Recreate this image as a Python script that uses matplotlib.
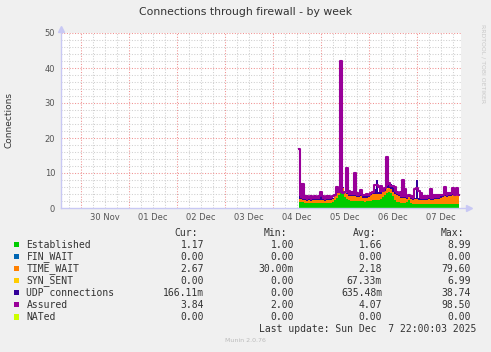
import datetime as dt
import matplotlib
matplotlib.use("Agg")
import matplotlib.pyplot as plt
import matplotlib.dates as mdates
from matplotlib.patches import Rectangle
import numpy as np
import pandas as pd

# ---------------- data (hourly, from Dec 4 13:00) ----------------
established = [1.8, 1.7, 1.6,
               1.5, 1.4, 1.5, 1.4, 1.4, 1.5, 1.4, 1.5, 1.5, 1.4, 1.4, 1.5, 1.4, 1.5, 1.6,
               2.2, 3.0, 3.6, 5.5, 4.2, 3.2, 2.6, 2.3,
               2.1, 2.0, 2.1, 2.0, 1.9, 2.0,
               1.9, 1.8, 1.9, 1.9,
               2.1, 2.3, 2.2, 2.3, 2.2,
               2.6, 3.2, 3.8, 4.4, 4.6, 4.2, 3.3,
               2.4, 1.8, 1.6,
               1.5, 1.5, 1.4,
               1.6, 2.3, 1.5,
               1.1, 1.2, 1.1, 1.1, 1.2, 1.1, 1.1, 1.1, 1.2, 1.1, 1.1, 1.2, 1.1, 1.1,
               1.2, 1.1, 1.2, 1.1, 1.2, 1.1, 1.2, 1.1, 1.2, 1.17]
fin_wait = [0.0, 0.0, 0.0, 0.0, 0.0, 0.0, 0.0, 0.0, 0.0, 0.0, 0.0, 0.0, 0.0, 0.0, 0.0, 0.0, 0.0, 0.0,
            0.0, 0.0, 0.0, 0.0, 0.0, 0.0, 0.0, 0.0, 0.0, 0.0, 0.0, 0.0, 0.0, 0.0, 0.0, 0.0, 0.0, 0.0,
            0.0, 0.0, 0.0, 0.0, 0.0, 0.0, 0.0, 0.0, 0.0, 0.0, 0.0, 0.0, 0.0, 0.0, 0.0, 0.0, 0.0, 0.0,
            0.0, 0.0, 0.0, 0.0, 0.0, 0.0, 0.0, 0.0, 0.0, 0.0, 0.0, 0.0, 0.0, 0.0, 0.0, 0.0, 0.0, 0.0,
            0.0, 0.0, 0.0, 0.0, 0.0, 0.0, 0.0, 0.0, 0.0]
time_wait = [0.9, 0.8, 0.8,
             0.8, 0.7, 0.8, 0.7, 0.8, 0.7, 0.8, 0.8, 0.7, 0.8, 0.7, 0.8, 0.8, 0.7, 0.9,
             1.2, 1.3, 1.4, 1.5, 1.4, 1.3, 1.3, 1.2,
             1.3, 1.4, 1.3, 1.2, 1.3, 1.3,
             1.1, 1.2, 1.1, 1.2,
             1.7, 1.8, 1.7, 1.8, 1.7,
             1.5, 1.3, 1.2, 1.1, 1.1, 1.2, 1.4,
             1.7, 1.8, 1.8,
             1.3, 1.3, 1.4,
             1.0, 0.8, 1.0,
             1.2, 1.3, 1.4, 1.3, 1.2, 1.2, 1.1, 1.2, 1.3, 1.2, 1.2, 1.3, 1.4, 1.6,
             1.8, 2.0, 2.2, 2.1, 2.3, 2.2, 2.4, 2.3, 2.5, 2.67]
syn_sent = [0.0, 0.0, 0.0, 0.0, 0.0, 0.0, 0.0, 0.0, 0.0, 0.0, 0.0, 0.0, 0.0, 0.0, 0.0, 0.0, 0.0, 0.0,
            0.0, 0.0, 0.0, 0.3, 0.0, 0.0, 0.0, 0.0, 0.0, 0.0, 0.0, 0.0, 0.0, 0.0, 0.0, 0.0, 0.0, 0.0,
            0.0, 0.0, 0.0, 0.0, 0.0, 0.0, 0.0, 0.0, 0.3, 0.0, 0.0, 0.0, 0.0, 0.0, 0.0, 0.0, 0.0, 0.0,
            0.0, 0.0, 0.0, 0.0, 0.0, 0.0, 0.0, 0.0, 0.0, 0.0, 0.0, 0.0, 0.0, 0.0, 0.0, 0.0, 0.0, 0.0,
            0.0, 0.0, 0.0, 0.0, 0.0, 0.0, 0.0, 0.0, 0.0]
udp = [0.8, 0.4, 0.3,
       0.3, 0.3, 0.3, 0.2, 0.3, 0.3, 0.3, 0.3, 2.4, 0.3, 0.3, 0.2, 0.3, 0.3, 0.3,
       0.3, 0.4, 0.3, 0.5, 0.3, 0.3, 0.3, 0.3,
       0.3, 0.3, 0.3, 0.3, 0.3, 0.3,
       0.3, 0.3, 0.3, 0.3,
       0.3, 0.4, 1.5, 4.0, 0.6,
       0.4, 0.3, 0.4, 0.5, 1.0, 1.6, 1.4,
       0.5, 0.3, 0.3,
       0.3, 0.4, 0.3,
       0.3, 0.3, 0.3,
       0.3, 0.4, 5.6, 0.4, 0.3, 0.3, 0.3, 0.3, 0.3, 0.3, 0.3, 0.3, 0.3, 0.3,
       0.3, 0.3, 0.3, 0.3, 0.3, 0.3, 0.3, 0.3, 0.3, 0.17]
assured = [16.8, 7.0, 6.8, 3.5,
           3.3, 3.2, 3.4, 3.2, 3.3, 3.2, 3.4,
           4.7,
           3.3, 3.2, 3.3, 3.4, 3.2, 3.3, 3.6,
           6.1, 4.6, 42.0, 4.4, 4.6, 11.5, 4.8, 4.6, 4.7, 9.9, 4.2, 3.9, 5.1,
           3.8, 3.7, 3.9, 3.8, 4.3, 4.6,
           6.5, 6.6, 6.0, 6.4, 5.0, 5.8, 14.7, 7.1, 6.2, 6.4, 6.0, 4.6, 4.4, 4.5,
           8.0, 5.5, 3.5, 3.6, 3.4, 3.5, 5.4, 5.6, 5.0, 4.2,
           3.3, 3.4, 3.3, 3.4,
           5.5, 3.8,
           3.6, 3.7, 3.6, 3.7, 3.8,
           6.1, 4.2, 4.3, 4.2, 5.6, 3.7, 5.6, 3.84]
nated = [0.0, 0.0, 0.0, 0.0, 0.0, 0.0, 0.0, 0.0, 0.0, 0.0, 0.0, 0.0, 0.0, 0.0, 0.0, 0.0, 0.0, 0.0,
         0.0, 0.0, 0.0, 0.0, 0.0, 0.0, 0.0, 0.0, 0.0, 0.0, 0.0, 0.0, 0.0, 0.0, 0.0, 0.0, 0.0, 0.0,
         0.0, 0.0, 0.0, 0.0, 0.0, 0.0, 0.0, 0.0, 0.0, 0.0, 0.0, 0.0, 0.0, 0.0, 0.0, 0.0, 0.0, 0.0,
         0.0, 0.0, 0.0, 0.0, 0.0, 0.0, 0.0, 0.0, 0.0, 0.0, 0.0, 0.0, 0.0, 0.0, 0.0, 0.0, 0.0, 0.0,
         0.0, 0.0, 0.0, 0.0, 0.0, 0.0, 0.0, 0.0, 0.0]

labels = ["Established", "FIN_WAIT", "TIME_WAIT", "SYN_SENT", "UDP connections", "Assured", "NATed"]
colors = ["#00CC00", "#0066B3", "#FF8000", "#FFCC00", "#330099", "#990099", "#CCFF00"]
cur_vals = ["1.17", "0.00", "2.67", "0.00", "166.11m", "3.84", "0.00"]
min_vals = ["1.00", "0.00", "30.00m", "0.00", "0.00", "2.00", "0.00"]
avg_vals = ["1.66", "0.00", "2.18", "67.33m", "635.48m", "4.07", "0.00"]
max_vals = ["8.99", "0.00", "79.60", "6.99", "38.74", "98.50", "0.00"]
x_tick_labels = ["30 Nov", "01 Dec", "02 Dec", "03 Dec", "04 Dec", "05 Dec", "06 Dec", "07 Dec"]
y_ticks = [0, 10, 20, 30, 40, 50]

# ---------------- figure ----------------
W, H = 491, 352
fig = plt.figure(figsize=(W / 100, H / 100), dpi=100)
fig.patch.set_facecolor("#F0F0F0")

def fx(x):
    return x / W

def fy(y):
    return 1 - y / H

ax_l, ax_r, ax_t, ax_b = 60.7, 460.7, 33.0, 208.0
ax = fig.add_axes([fx(ax_l), fy(ax_b), (ax_r - ax_l) / W, (ax_b - ax_t) / H])
ax.set_facecolor("white")

t0 = dt.datetime(2025, 11, 29, 14, 0)
t1 = dt.datetime(2025, 12, 7, 22, 0)
times = pd.date_range(dt.datetime(2025, 12, 4, 13, 0), periods=len(assured), freq="h")
x = mdates.date2num(times.to_pydatetime())

# grid
minor_c = "#CFCFCF"
major_c = "#F09090"
dots = (0, (1, 1.6))
day = dt.timedelta(days=1)
for k in range(0, 40):
    tt = dt.datetime(2025, 11, 29, 18, 0) + k * dt.timedelta(hours=6)
    if tt >= t1:
        break
    col = major_c if tt.hour == 0 else minor_c
    ax.axvline(mdates.date2num(tt), color=col, lw=0.75, ls=dots, zorder=0.5)
for v in range(2, 51, 2):
    col = major_c if v % 10 == 0 else minor_c
    ax.axhline(v, color=col, lw=0.75, ls=dots, zorder=0.5)

# stacked areas
stack = [established, fin_wait, time_wait, syn_sent, udp]
base = np.zeros(len(x))
for vals, c in zip(stack, colors[:5]):
    top = base + np.array(vals)
    ax.fill_between(x, base, top, step="mid", color=c, lw=0, zorder=2)
    base = top
total = base
asr = np.array(assured)
ax.fill_between(x, total, asr, where=asr > total, step="mid", color=colors[5], lw=0, zorder=2.1)
ax.plot(x, asr, drawstyle="steps-mid", color=colors[5], lw=1.5, zorder=2.2)
ax.plot(x, nated, drawstyle="steps-mid", color=colors[6], lw=0.7, zorder=2.0)

ax.set_xlim(mdates.date2num(t0), mdates.date2num(t1))
ax.set_ylim(0, 50)

for s in ["top", "right", "left", "bottom"]:
    ax.spines[s].set_visible(False)
axis_c = "#C8C8F4"
ax.plot([0, 0], [0, 1.02], transform=ax.transAxes, color=axis_c, lw=1.0, clip_on=False, zorder=3)
ax.plot([0, 1.015], [0, 0], transform=ax.transAxes, color=axis_c, lw=1.0, clip_on=False, zorder=3)
ax.plot([0], [1.025], marker="^", ms=4, color=axis_c, transform=ax.transAxes, clip_on=False, zorder=3)
ax.plot([1.02], [0], marker=">", ms=4, color=axis_c, transform=ax.transAxes, clip_on=False, zorder=3)

# ticks
ax.set_yticks(y_ticks)
ax.set_yticklabels([str(v) for v in y_ticks])
noon = [mdates.date2num(dt.datetime(2025, 11, 30, 12, 0) + i * day) for i in range(len(x_tick_labels))]
ax.set_xticks(noon)
ax.set_xticklabels(x_tick_labels)
ax.tick_params(axis="both", length=0, labelsize=6, labelcolor="#555555", pad=3.5)
ax.tick_params(axis="y", pad=4)

# texts
fig.text(fx(245.5), fy(12), "Connections through firewall - by week", ha="center", va="center",
         fontsize=7.8, color="#333333")
fig.text(fx(9), fy(120), "Connections", rotation=90, ha="center", va="center", fontsize=6.5, color="#333333")
fig.text(fx(483), fy(64), "RRDTOOL / TOBI OETIKER", rotation=270, ha="center", va="center",
         fontsize=4.4, color="#C8C8C8")

mono = "DejaVu Sans Mono"
lc = "#333333"
fs = 7
hy = 233.5
for txt, xr in zip(["Cur:", "Min:", "Avg:", "Max:"], [198, 287, 376, 464]):
    fig.text(fx(xr), fy(hy), txt, ha="right", va="center", family=mono, fontsize=fs, color=lc)
for i, lab in enumerate(labels):
    ry = 244.5 + i * 12.05
    fig.add_artist(Rectangle((fx(14), fy(ry + 2.7)), 5.4 / W, 5.4 / H, transform=fig.transFigure,
                             facecolor=colors[i], edgecolor="none"))
    fig.text(fx(26.5), fy(ry), lab, ha="left", va="center", family=mono, fontsize=fs, color=lc)
    for vals, xr in zip([cur_vals, min_vals, avg_vals, max_vals], [204, 294, 382, 471]):
        fig.text(fx(xr), fy(ry), vals[i], ha="right", va="center", family=mono, fontsize=fs, color=lc)
fig.text(fx(476), fy(329), "Last update: Sun Dec  7 22:00:03 2025", ha="right", va="center",
         family=mono, fontsize=fs, color=lc)
fig.text(fx(245.5), fy(340), "Munin 2.0.76", ha="center", va="center", fontsize=4.5, color="#BBBBBB")

fig.savefig("out.png", dpi=100, facecolor=fig.get_facecolor())
